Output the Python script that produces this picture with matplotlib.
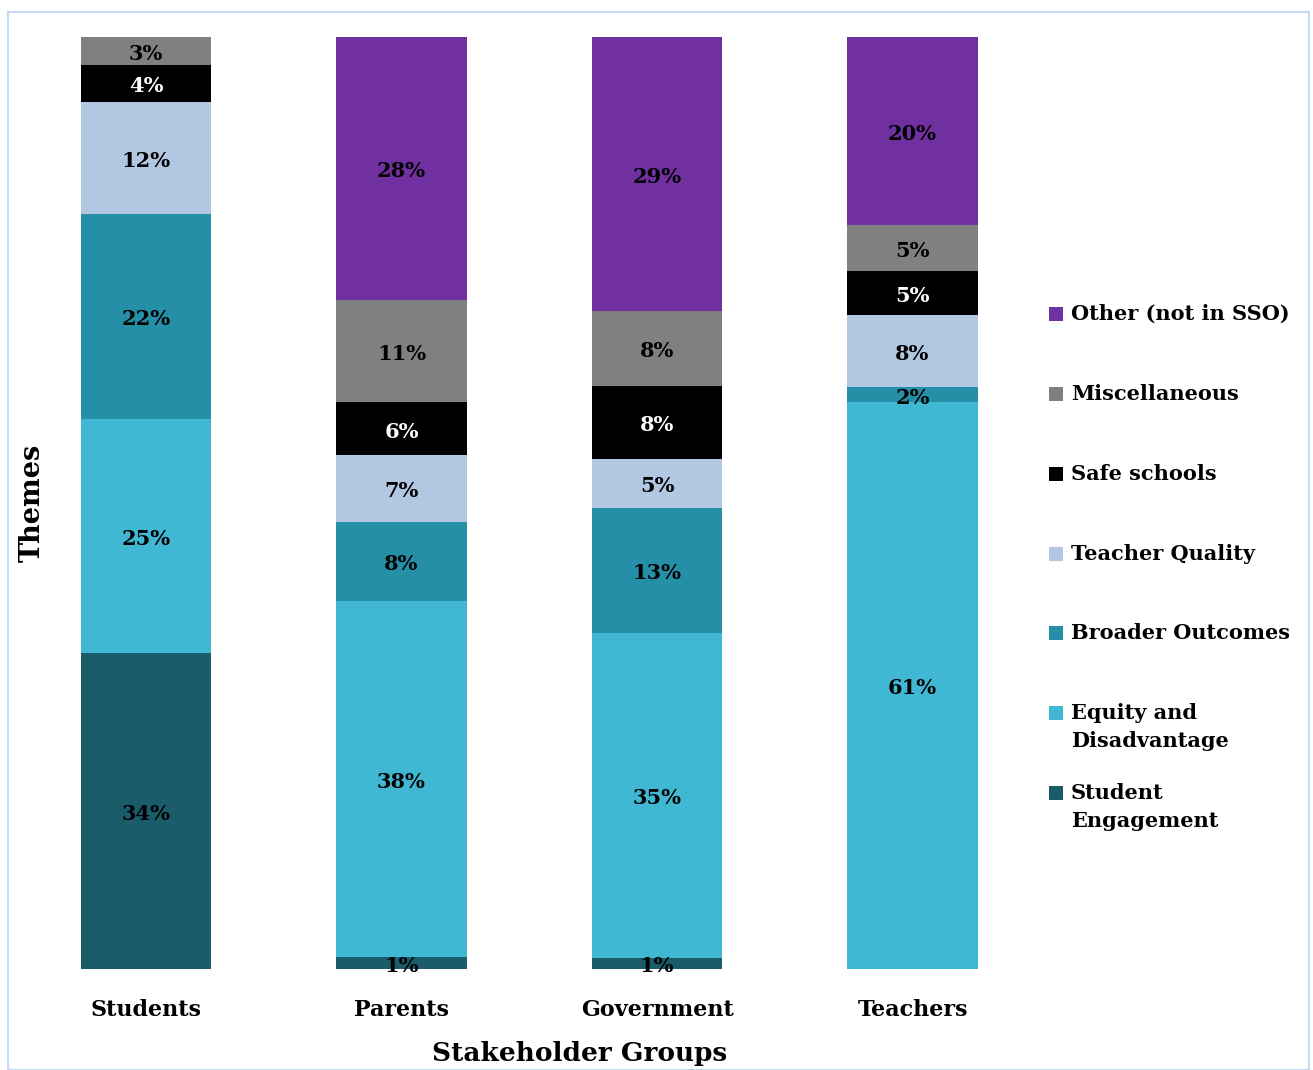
import matplotlib
matplotlib.use("Agg")
import matplotlib.pyplot as plt
from matplotlib.patches import Rectangle
import numpy as np

groups = ["Students", "Parents", "Government", "Teachers"]
themes = ["Student Engagement", "Equity and Disadvantage", "Broader Outcomes",
          "Teacher Quality", "Safe schools", "Miscellaneous", "Other (not in SSO)"]
legend_labels = ["Student\nEngagement", "Equity and\nDisadvantage", "Broader Outcomes",
                 "Teacher Quality", "Safe schools", "Miscellaneous", "Other (not in SSO)"]
student_engagement = [33.9, 1.3, 1.2, 0.0]
equity_disadvantage = [25.1, 38.2, 34.9, 60.8]
broader_outcomes = [22.0, 8.5, 13.4, 1.6]
teacher_quality = [12.0, 7.1, 5.2, 7.8]
safe_schools = [4.0, 5.7, 7.9, 4.7]
miscellaneous = [3.0, 11.0, 8.0, 4.9]
other = [0.0, 28.2, 29.4, 20.2]
label_values = [
    [34, 1, 1, None],
    [25, 38, 35, 61],
    [22, 8, 13, 2],
    [12, 7, 5, 8],
    [4, 6, 8, 5],
    [3, 11, 8, 5],
    [None, 28, 29, 20],
]
series = [student_engagement, equity_disadvantage, broader_outcomes,
          teacher_quality, safe_schools, miscellaneous, other]
colors = ["#1B5C6B", "#40B8D4", "#268FA8", "#B1C7E2", "#000000", "#808080", "#7030A0"]
text_colors = ["black", "black", "black", "black", "white", "black", "black"]

FONT = "DejaVu Serif"
W, H = 1313, 1070
fig = plt.figure(figsize=(W / 100, H / 100), dpi=100)

# axes in pixel coords
left_px, right_px, top_px, bot_px = 60, 1030, 37, 969
ax = fig.add_axes([left_px / W, 1 - bot_px / H, (right_px - left_px) / W, (bot_px - top_px) / H])

x = np.arange(len(groups))
data = np.array(series, dtype=float)
totals = data.sum(axis=0)
pct = data / totals * 100
bottom = np.zeros(len(groups))
for i, vals in enumerate(pct):
    ax.bar(x, vals, bottom=bottom, width=0.51, color=colors[i], edgecolor="none")
    for j in range(len(groups)):
        lv = label_values[i][j]
        if lv is not None:
            ax.annotate(f"{lv}%", (x[j], bottom[j] + vals[j] / 2), xytext=(0, -2),
                        textcoords="offset points", ha="center", va="center",
                        fontsize=15, fontweight="bold", family=FONT, color=text_colors[i])
    bottom += vals

px_per_unit = 255.5
ax.set_xlim((left_px - 146) / px_per_unit, (right_px - 146) / px_per_unit)
ax.set_ylim(0, 100)
for s in ax.spines.values():
    s.set_visible(False)
ax.set_yticks([])
ax.set_xticks(x)
ax.set_xticklabels(groups, fontsize=16, fontweight="bold", family=FONT)
ax.tick_params(axis="x", length=0, pad=21.5)

fig.text(580 / W, 1 - 1053 / H, "Stakeholder Groups", ha="center", va="center",
         fontsize=19, fontweight="bold", family=FONT)
fig.text(32 / W, 1 - 503 / H, "Themes", ha="center", va="center", rotation=90,
         fontsize=19.5, fontweight="bold", family=FONT)

# legend (manual, reversed order)
leg_y = [314, 394, 474, 554, 633, 713, 793]
order = list(range(len(themes)))[::-1]
for k, idx in enumerate(order):
    y = leg_y[k]
    sq = 14
    fig.patches.append(Rectangle((1049 / W, 1 - (y + sq / 2) / H), sq / W, sq / H,
                                 transform=fig.transFigure, facecolor=colors[idx],
                                 edgecolor="none"))
    fig.text(1071 / W, 1 - (y - 10) / H, legend_labels[idx], ha="left", va="top",
             fontsize=15, fontweight="bold", family=FONT, linespacing=1.5)

# border
fig.patches.append(Rectangle((8 / W, 0), (1309 - 8) / W, 1 - 12 / H,
                             transform=fig.transFigure, facecolor="none",
                             edgecolor="#C6D9F0", linewidth=1.5))

fig.savefig("out.png", dpi=100)
